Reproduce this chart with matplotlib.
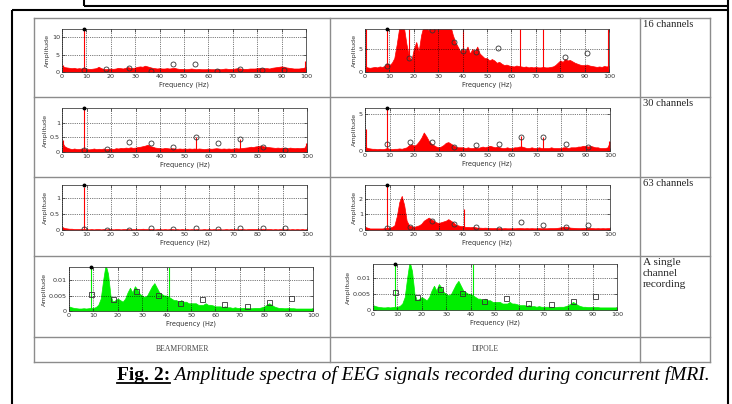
import numpy as np
import matplotlib.pyplot as plt
from matplotlib.lines import Line2D

# ---- data (1 Hz steps, 0..100 Hz) ----
FREQ = np.arange(0, 101)
HARM = [9.1, 18.2, 27.3, 36.4, 45.5, 54.6, 63.7, 72.8, 81.9, 91.0]

bf16_env = [1.8, 1.4, 1.3, 1.2, 1.1, 1.2, 1.0, 1.1, 1.0, 1.2,
            1.0, 0.9, 0.9, 1.0, 1.1, 1.5, 1.1, 0.9, 0.8, 0.9,
            1.0, 0.9, 1.0, 1.2, 1.1, 1.0, 1.2, 1.4, 1.2, 1.1,
            1.3, 1.5, 1.6, 1.5, 1.8, 1.6, 1.4, 1.2, 1.1, 1.0,
            1.1, 1.0, 1.0, 1.1, 1.0, 1.1, 1.2, 1.0, 0.9, 0.9,
            0.9, 0.8, 0.9, 1.0, 0.9, 0.8, 0.9, 0.8, 0.8, 0.8,
            0.9, 0.8, 0.8, 0.8, 0.9, 0.8, 0.9, 1.0, 0.9, 0.9,
            0.9, 1.0, 1.1, 1.0, 0.9, 0.9, 0.9, 1.0, 1.0, 1.0,
            1.1, 1.2, 1.1, 1.1, 1.1, 1.0, 1.2, 1.3, 1.4, 1.5,
            1.6, 1.5, 1.3, 1.2, 1.1, 1.0, 1.0, 1.0, 1.1, 1.2,
            1.5]
bf16_spk_f = [0.3, 9.1, 99.7]
bf16_spk_h = [2.0, 12.3, 3.2]
bf16_mk_f = HARM
bf16_mk_v = [0.6, 0.8, 1.2, 0.4, 2.2, 2.2, 0.3, 1.0, 0.5, 0.6]

dp16_env = [1.2, 1.0, 0.9, 1.0, 1.1, 1.0, 1.2, 1.1, 1.3, 2.0,
            1.5, 2.0, 3.0, 6.0, 9.5, 10, 9.5, 6.0, 3.5, 2.5,
            5.0, 6.5, 4.5, 8.0, 10, 10, 9.0, 10, 10, 10,
            10, 9.5, 10, 10, 10, 10, 8.0, 6.5, 5.5, 4.5,
            5.0, 4.5, 5.5, 4.0, 5.0, 4.5, 5.5, 4.0, 3.5, 3.0,
            3.0, 2.5, 2.8, 2.5, 2.0, 2.2, 1.8, 1.5, 1.6, 1.4,
            1.3, 1.2, 1.4, 1.3, 1.2, 1.1, 1.2, 1.0, 1.1, 1.0,
            1.1, 1.0, 1.0, 1.1, 1.0, 1.0, 1.1, 1.2, 1.5, 2.0,
            2.5, 2.2, 2.8, 2.5, 2.6, 2.3, 2.0, 1.8, 1.6, 1.5,
            1.5, 1.6, 1.4, 1.3, 1.2, 1.1, 1.2, 1.1, 1.3, 1.2,
            1.3]
dp16_spk_f = [0.3, 9.1, 18.2, 40.0, 63.7, 72.8, 99.7]
dp16_spk_h = [9.3, 9.3, 9.3, 9.3, 9.3, 9.3, 9.3]
dp16_mk_f = [9.1, 18.2, 27.3, 36.4, 40.0, 45.5, 54.6, 81.9, 91.0]
dp16_mk_v = [1.2, 3.0, 9.0, 6.4, 4.6, 4.4, 5.1, 3.2, 4.1]

bf30_env = [0.35, 0.2, 0.15, 0.12, 0.1, 0.12, 0.1, 0.1, 0.12, 0.1,
            0.1, 0.09, 0.1, 0.12, 0.1, 0.11, 0.1, 0.12, 0.1, 0.11,
            0.12, 0.1, 0.13, 0.12, 0.14, 0.13, 0.15, 0.14, 0.16, 0.14,
            0.15, 0.17, 0.18, 0.2, 0.22, 0.25, 0.2, 0.18, 0.15, 0.14,
            0.13, 0.12, 0.14, 0.13, 0.12, 0.13, 0.12, 0.11, 0.12, 0.11,
            0.12, 0.11, 0.12, 0.11, 0.12, 0.11, 0.12, 0.11, 0.1, 0.11,
            0.12, 0.11, 0.12, 0.13, 0.12, 0.11, 0.12, 0.11, 0.12, 0.11,
            0.12, 0.13, 0.12, 0.13, 0.14, 0.15, 0.16, 0.18, 0.17, 0.19,
            0.2, 0.22, 0.2, 0.18, 0.17, 0.16, 0.15, 0.14, 0.15, 0.14,
            0.15, 0.14, 0.13, 0.15, 0.14, 0.13, 0.14, 0.13, 0.14, 0.15,
            0.3]
bf30_spk_f = [0.3, 9.1, 54.6, 72.8, 99.7]
bf30_spk_h = [0.4, 1.45, 0.5, 0.45, 0.3]
bf30_mk_f = HARM
bf30_mk_v = [0.07, 0.1, 0.33, 0.32, 0.18, 0.5, 0.3, 0.44, 0.18, 0.07]

dp30_env = [0.6, 0.4, 0.35, 0.3, 0.3, 0.25, 0.3, 0.25, 0.3, 0.4,
            0.3, 0.25, 0.3, 0.3, 0.35, 0.3, 0.4, 0.5, 0.8, 0.9,
            0.7, 0.9, 1.3, 1.8, 2.5, 2.0, 1.4, 1.0, 0.8, 0.6,
            0.5, 0.6, 0.8, 1.1, 1.2, 1.0, 0.8, 0.6, 0.5, 0.5,
            0.5, 0.4, 0.5, 0.4, 0.4, 0.5, 0.4, 0.5, 0.6, 0.5,
            0.6, 0.7, 0.6, 0.5, 0.6, 0.5, 0.4, 0.4, 0.5, 0.4,
            0.4, 0.5, 0.5, 0.6, 0.6, 0.5, 0.4, 0.4, 0.5, 0.4,
            0.4, 0.5, 0.4, 0.4, 0.4, 0.4, 0.5, 0.4, 0.4, 0.4,
            0.4, 0.5, 0.5, 0.4, 0.5, 0.5, 0.5, 0.6, 0.6, 0.7,
            0.7, 0.6, 0.7, 0.6, 0.5, 0.5, 0.4, 0.4, 0.4, 0.5,
            1.3]
dp30_spk_f = [0.3, 9.1, 63.7, 72.8, 99.7]
dp30_spk_h = [3.0, 5.8, 2.0, 1.9, 1.3]
dp30_mk_f = HARM
dp30_mk_v = [1.0, 1.2, 1.2, 0.5, 0.8, 1.0, 1.9, 1.9, 0.9, 0.5]

bf63_env = [0.1, 0.06, 0.05, 0.04, 0.04, 0.03, 0.03, 0.03, 0.03, 0.03,
            0.03, 0.02, 0.03, 0.02, 0.03, 0.03, 0.02, 0.03, 0.02, 0.03,
            0.03, 0.02, 0.03, 0.03, 0.02, 0.03, 0.03, 0.03, 0.02, 0.03,
            0.03, 0.03, 0.03, 0.04, 0.03, 0.03, 0.03, 0.03, 0.02, 0.03,
            0.03, 0.02, 0.03, 0.02, 0.03, 0.03, 0.02, 0.03, 0.02, 0.03,
            0.02, 0.03, 0.02, 0.03, 0.02, 0.03, 0.02, 0.02, 0.03, 0.02,
            0.03, 0.02, 0.03, 0.02, 0.03, 0.02, 0.02, 0.03, 0.02, 0.03,
            0.02, 0.03, 0.02, 0.03, 0.03, 0.02, 0.03, 0.03, 0.03, 0.03,
            0.03, 0.03, 0.04, 0.03, 0.03, 0.03, 0.02, 0.03, 0.02, 0.03,
            0.03, 0.02, 0.03, 0.02, 0.03, 0.02, 0.03, 0.02, 0.03, 0.02,
            0.03]
bf63_spk_f = [9.1]
bf63_spk_h = [1.35]
bf63_mk_f = HARM
bf63_mk_v = [0.03, 0.0, 0.01, 0.05, 0.04, 0.05, 0.04, 0.07, 0.07, 0.06]

dp63_env = [0.2, 0.15, 0.1, 0.1, 0.1, 0.1, 0.1, 0.1, 0.12, 0.15,
            0.15, 0.2, 0.3, 0.9, 1.8, 2.2, 1.6, 0.6, 0.3, 0.25,
            0.2, 0.25, 0.3, 0.4, 0.6, 0.7, 0.8, 0.7, 0.6, 0.5,
            0.45, 0.5, 0.55, 0.6, 0.7, 0.6, 0.5, 0.35, 0.3, 0.25,
            0.25, 0.2, 0.2, 0.18, 0.2, 0.18, 0.15, 0.15, 0.14, 0.15,
            0.14, 0.13, 0.12, 0.13, 0.12, 0.12, 0.11, 0.12, 0.11, 0.11,
            0.12, 0.11, 0.12, 0.13, 0.12, 0.11, 0.12, 0.11, 0.12, 0.11,
            0.11, 0.12, 0.11, 0.12, 0.11, 0.12, 0.12, 0.12, 0.13, 0.15,
            0.18, 0.2, 0.22, 0.18, 0.15, 0.14, 0.13, 0.12, 0.12, 0.13,
            0.14, 0.15, 0.13, 0.12, 0.11, 0.12, 0.11, 0.12, 0.11, 0.12,
            0.12]
dp63_spk_f = [9.1, 40.6]
dp63_spk_h = [2.9, 1.35]
dp63_mk_f = HARM
dp63_mk_v = [0.1, 0.2, 0.6, 0.4, 0.22, 0.05, 0.5, 0.35, 0.2, 0.3]

# single channel recording (same trace in both columns), units of 1e-3
single_env = [1.5, 1.2, 1.0, 0.9, 0.8, 0.8, 0.9, 0.8, 0.9, 1.0,
              1.0, 1.3, 2.0, 4.0, 10, 15, 12, 5.0, 3.0, 3.5,
              4.0, 3.5, 3.0, 4.0, 6.0, 7.5, 6.0, 8.0, 7.0, 5.5,
              5.0, 4.5, 5.0, 6.5, 8.0, 9.0, 7.5, 6.0, 5.5, 5.0,
              5.0, 4.5, 4.0, 3.5, 3.5, 3.0, 3.5, 3.0, 3.0, 2.5,
              2.5, 2.5, 2.5, 2.0, 2.0, 2.0, 2.5, 2.0, 2.0, 1.8,
              1.5, 1.5, 1.5, 1.3, 1.5, 1.2, 1.2, 1.0, 1.2, 1.0,
              1.0, 1.0, 1.0, 1.0, 0.9, 0.9, 1.0, 1.0, 1.0, 1.2,
              1.5, 2.0, 2.5, 2.0, 1.5, 1.2, 1.0, 1.0, 0.9, 0.9,
              1.0, 0.9, 0.9, 0.8, 0.8, 0.8, 0.8, 0.8, 0.8, 0.8,
              0.8]
single_spk_f = [9.1, 41.0, 99.7]
single_spk_h = [14.2, 14.2, 1.0]
single_mk_f = HARM
single_mk_v = [5.6, 4.0, 6.4, 5.3, 2.7, 3.8, 2.2, 1.7, 2.9, 4.3]

ROW_LABELS = ["16 channels", "30 channels", "63 channels", "A single\nchannel\nrecording"]
COL_LABELS = ["BEAMFORMER", "DIPOLE"]
CAPTION_BOLD = "Fig. 2:"
CAPTION_TEXT = " Amplitude spectra of EEG signals recorded during concurrent fMRI."

W, H = 732, 404
RED = "#ff0000"
GREEN = "#00ee00"

fig = plt.figure(figsize=(W / 100, H / 100), dpi=100)
bg = fig.add_axes([0, 0, 1, 1])
bg.set_xlim(0, W)
bg.set_ylim(H, 0)
bg.axis("off")


def hline(y, x0, x1, **kw):
    bg.add_line(Line2D([x0, x1], [y, y], **kw))


def vline(x, y0, y1, **kw):
    bg.add_line(Line2D([x, x], [y0, y1], **kw))


# page frame (black)
blk = dict(color="black", lw=1.5, solid_capstyle="butt")
vline(84, 0, 6, **blk)
hline(6, 84, 728, **blk)
hline(9.5, 12, 728, **blk)
vline(12, 9.5, H, **blk)
vline(728, 0, H, **blk)

# table grid (gray)
gry = dict(color="#8c8c8c", lw=1.0)
tx0, tx1, ty0, ty1 = 34, 710, 18, 362
for y in [ty0, 97, 177, 256, 337, ty1]:
    hline(y, tx0, tx1, **gry)
for x in [tx0, 330, 640, tx1]:
    vline(x, ty0, ty1, **gry)

for i, (lab, y) in enumerate(zip(ROW_LABELS, [20, 99, 179, 258])):
    bg.text(643, y, lab, fontsize=8.2 if i == 3 else 7.6, family="Liberation Serif",
            va="top", ha="left", color="#222222", linespacing=1.3)
for lab, x in zip(COL_LABELS, [182, 485]):
    bg.text(x, 349, lab, fontsize=5.5, family="Liberation Serif", va="center",
            ha="center", color="#444444")


def px_axes(x0, y0, x1, y1):
    return fig.add_axes([x0 / W, 1 - y1 / H, (x1 - x0) / W, (y1 - y0) / H])


def panel(rect, env, scale, top, yticks, ytl, spk_f, spk_h, mk_f, mk_v, color, marker):
    ax = px_axes(*rect)
    env = np.asarray(env) * scale
    ax.fill_between(FREQ, 0, env, color=color, lw=0.5, zorder=2)
    ax.vlines(spk_f, 0, np.asarray(spk_h) * scale, color=color, lw=0.8, zorder=2)
    ax.plot(mk_f, np.asarray(mk_v) * scale, ls="none", marker=marker, mfc="none",
            mec="#333333", ms=3.6, mew=0.6, zorder=4)
    ax.plot([9.1], [top], ls="none", marker="o", color="black", ms=1.8,
            clip_on=False, zorder=5)
    ax.set_xlim(0, 100)
    ax.set_ylim(0, top)
    ax.set_xticks(range(0, 101, 10))
    ax.set_yticks(yticks)
    ax.set_yticklabels(ytl)
    ax.grid(True, ls=":", color="black", lw=0.5)
    ax.set_axisbelow(False)
    ax.tick_params(direction="in", length=2, width=0.5, labelsize=4.6, pad=1.5,
                   top=True, right=True, colors="#333333")
    for s in ax.spines.values():
        s.set_linewidth(0.6)
        s.set_color("#444444")
    ax.set_xlabel("Frequency (Hz)", fontsize=4.8, labelpad=1.5, color="#333333")
    ax.set_ylabel("Amplitude", fontsize=4.6, labelpad=1.5, color="#333333")
    return ax


panel((62, 29, 306, 72), bf16_env, 1, 12.3, [0, 5, 10], ["0", "5", "10"],
      bf16_spk_f, bf16_spk_h, bf16_mk_f, bf16_mk_v, RED, "o")
panel((365, 29, 609, 72), dp16_env, 1, 9.3, [0, 5], ["0", "5"],
      dp16_spk_f, dp16_spk_h, dp16_mk_f, dp16_mk_v, RED, "o")
panel((62, 108, 307, 152), bf30_env, 1, 1.5, [0, 0.5, 1], ["0", "0.5", "1"],
      bf30_spk_f, bf30_spk_h, bf30_mk_f, bf30_mk_v, RED, "o")
panel((365, 108, 610, 151), dp30_env, 1, 5.8, [0, 5], ["0", "5"],
      dp30_spk_f, dp30_spk_h, dp30_mk_f, dp30_mk_v, RED, "o")
panel((62, 185, 307, 230), bf63_env, 1, 1.4, [0, 0.5, 1], ["0", "0.5", "1"],
      bf63_spk_f, bf63_spk_h, bf63_mk_f, bf63_mk_v, RED, "o")
panel((365, 185, 610, 230), dp63_env, 1, 2.9, [0, 1, 2], ["0", "1", "2"],
      dp63_spk_f, dp63_spk_h, dp63_mk_f, dp63_mk_v, RED, "o")
panel((69, 267, 313, 311), single_env, 1e-3, 0.0142, [0, 0.005, 0.01],
      ["0", "0.005", "0.01"], single_spk_f, single_spk_h, single_mk_f, single_mk_v,
      GREEN, "s")
panel((373, 264, 617, 310), single_env, 1e-3, 0.0142, [0, 0.005, 0.01],
      ["0", "0.005", "0.01"], single_spk_f, single_spk_h, single_mk_f, single_mk_v,
      GREEN, "s")

# caption: bold underlined "Fig. 2:" followed by italic text
t1 = bg.text(117, 380, CAPTION_BOLD, fontsize=14, family="Liberation Serif",
             weight="bold", va="baseline", ha="left")
fig.canvas.draw()
bb = t1.get_window_extent()
inv = bg.transData.inverted()
(bx0, by0), (bx1, by1) = inv.transform([[bb.x0, bb.y0], [bb.x1, bb.y1]])
hline(382.5, bx0, bx1, color="black", lw=1.3)
bg.text(bx1, 380, CAPTION_TEXT, fontsize=14, family="Liberation Serif",
        style="italic", va="baseline", ha="left")

fig.savefig("out.png", dpi=100)
